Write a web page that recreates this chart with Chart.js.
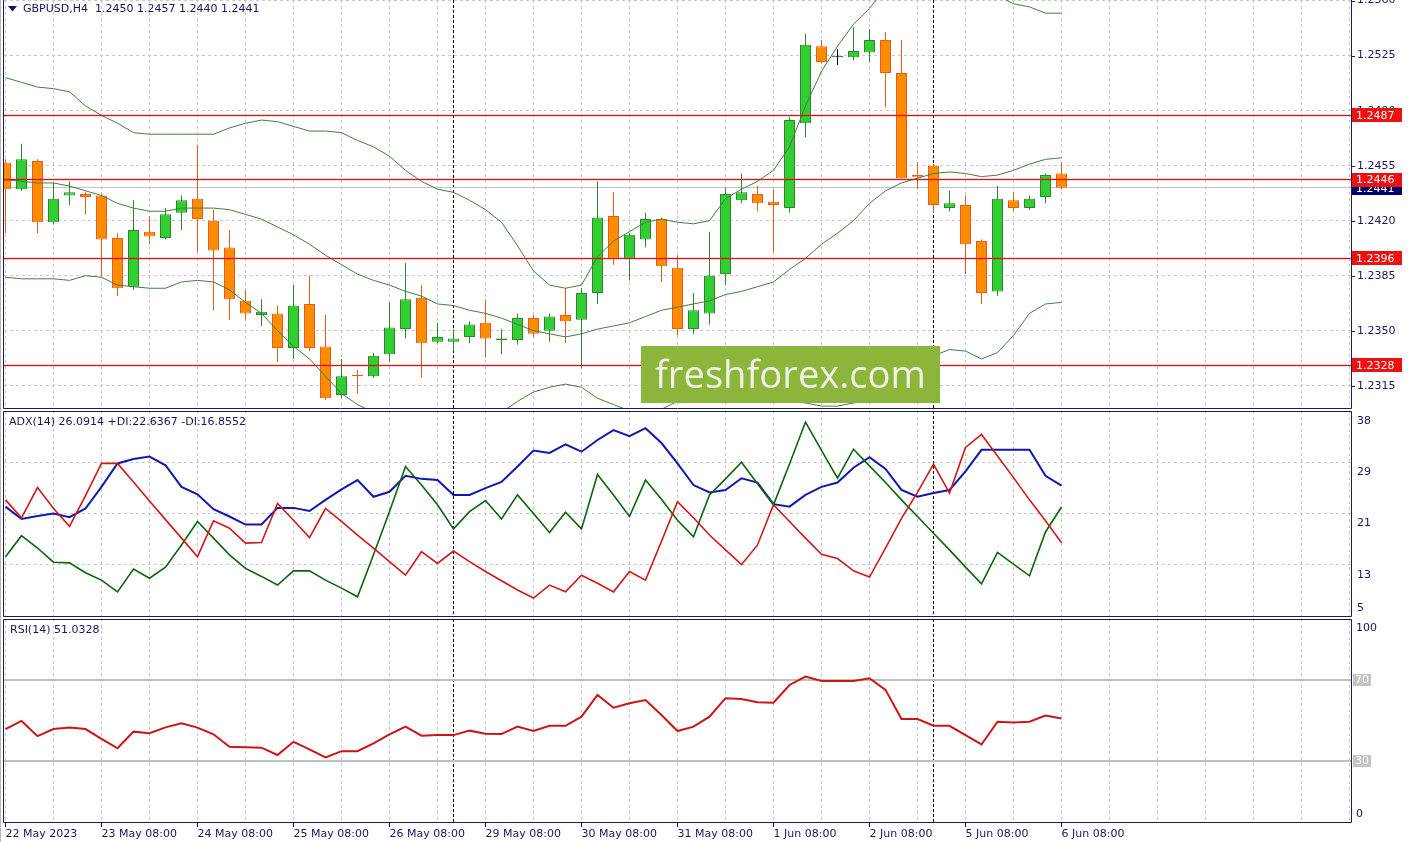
<!DOCTYPE html>
<html><head><meta charset="utf-8">
<script src="https://cdn.jsdelivr.net/npm/chart.js@4.4.1/dist/chart.umd.min.js"></script>
<style>
html,body{margin:0;padding:0;background:#fff;}
#wrap{position:relative;width:1410px;height:842px;overflow:hidden;background:#fff;}
canvas{position:absolute;left:0;}
</style></head><body>
<div id="wrap">
<canvas id="cMain" width="1410" height="410" style="top:0px"></canvas>
<canvas id="cAdx" width="1410" height="207" style="top:410px"></canvas>
<canvas id="cRsi" width="1410" height="225" style="top:617px"></canvas>
</div>
<script>
// ---------------- DATA ----------------
const symbol = 'GBPUSD,H4';
const open = [1.2457,1.2440,1.2458,1.2419,1.2436,1.2437,1.2436,1.2409,1.2378,1.2413,
  1.2409,1.2425,1.2434,1.2420,1.2403,1.2369,1.2360,1.2361,1.2339,1.2367,
  1.2340,1.2309,1.2322,1.2321,1.2335,1.2351,1.2371,1.2343,1.2343,1.2346,
  1.2355,1.2344,1.2344,1.2358,1.2350,1.2360,1.2357,1.2374,1.2423,1.2396,
  1.2408,1.2421,1.2390,1.2351,1.2361,1.2386,1.2433,1.2437,1.2432,1.2428,
  1.2482,1.2531,1.2524,1.2524,1.2527,1.2535,1.2514,1.2449,1.2455,1.2428,
  1.2430,1.2407,1.2375,1.2433,1.2428,1.2435,1.2450];
const high = [1.2459,1.2469,1.2459,1.2444,1.2445,1.2438,1.2437,1.2412,1.2433,1.2423,
  1.2428,1.2436,1.2468,1.2427,1.2414,1.2376,1.2370,1.2366,1.2379,1.2385,
  1.2360,1.2332,1.2325,1.2336,1.2368,1.2393,1.2379,1.2355,1.2351,1.2356,
  1.2370,1.2351,1.2361,1.2360,1.2361,1.2377,1.2377,1.2445,1.2438,1.2412,
  1.2425,1.2422,1.2398,1.2374,1.2413,1.2441,1.2450,1.2442,1.2440,1.2486,
  1.2539,1.2535,1.2529,1.2543,1.2542,1.2540,1.2535,1.2457,1.2456,1.2439,
  1.2436,1.2408,1.2442,1.2438,1.2436,1.2450,1.2457];
const low = [1.2412,1.2439,1.2412,1.2418,1.2430,1.2424,1.2385,1.2372,1.2376,1.2405,
  1.2408,1.2414,1.2400,1.2363,1.2357,1.2357,1.2353,1.2330,1.2332,1.2337,
  1.2306,1.2307,1.2310,1.2320,1.2330,1.2345,1.2320,1.2342,1.2337,1.2342,
  1.2333,1.2335,1.2341,1.2346,1.2343,1.2342,1.2326,1.2367,1.2392,1.2382,
  1.2403,1.2381,1.2347,1.2348,1.2354,1.2379,1.2431,1.2426,1.2400,1.2425,
  1.2473,1.2520,1.2519,1.2522,1.2521,1.2492,1.2447,1.2440,1.2425,1.2426,
  1.2386,1.2367,1.2372,1.2426,1.2427,1.2431,1.2440];
const close = [1.2440,1.2459,1.2419,1.2434,1.2438,1.2435,1.2408,1.2377,1.2414,1.2410,
  1.2424,1.2433,1.2421,1.2401,1.2370,1.2361,1.2362,1.2339,1.2366,1.2339,
  1.2307,1.2321,1.2321,1.2334,1.2352,1.2370,1.2342,1.2346,1.2345,1.2354,
  1.2345,1.2345,1.2358,1.2348,1.2359,1.2356,1.2374,1.2422,1.2396,1.2411,
  1.2421,1.2391,1.2351,1.2363,1.2385,1.2437,1.2438,1.2431,1.2430,1.2484,
  1.2532,1.2521,1.2524,1.2528,1.2535,1.2514,1.2447,1.2448,1.2430,1.2431,
  1.2405,1.2374,1.2434,1.2428,1.2434,1.2449,1.2441];

const bbUpper = [1.2511,1.2508,1.2505,1.2504,1.2502,1.2493,1.2487,1.2482,1.2476,1.2475,
  1.2475,1.2475,1.2475,1.2475,1.2479,1.2482,1.2484,1.2483,1.2480,1.2477,
  1.2477,1.2476,1.2471,1.2467,1.2461,1.2452,1.2445,1.2440,1.2438,1.2433,
  1.2427,1.2419,1.2404,1.2388,1.2379,1.2377,1.2379,1.2397,1.2407,1.2413,
  1.2419,1.2421,1.2419,1.2418,1.2420,1.2434,1.2440,1.2445,1.2452,1.2467,
  1.2493,1.2515,1.2531,1.2545,1.2555,1.2568,1.2570,1.2569,1.2566,1.2563,
  1.2563,1.2564,1.2563,1.2558,1.2556,1.2552,1.2552];
const bbMiddle = [1.2446,1.2445,1.2444,1.2444,1.2442,1.2439,1.2436,1.2431,1.2428,1.2426,
  1.2426,1.2428,1.2428,1.2428,1.2427,1.2424,1.2421,1.2416,1.2411,1.2405,
  1.2398,1.2392,1.2386,1.2382,1.2379,1.2375,1.2372,1.2367,1.2366,1.2363,
  1.2361,1.2358,1.2354,1.2350,1.2348,1.2346,1.2348,1.2351,1.2353,1.2355,
  1.2359,1.2363,1.2365,1.2367,1.2369,1.2373,1.2375,1.2378,1.2381,1.2389,
  1.2396,1.2405,1.2412,1.2420,1.2431,1.2439,1.2444,1.2447,1.2450,1.2451,
  1.2450,1.2448,1.2449,1.2452,1.2456,1.2459,1.2460];
const bbLower = [1.2384,1.2383,1.2383,1.2383,1.2382,1.2385,1.2384,1.2379,1.2378,1.2377,
  1.2377,1.2381,1.2382,1.2381,1.2376,1.2368,1.2361,1.2350,1.2340,1.2332,
  1.2321,1.2310,1.2303,1.2298,1.2297,1.2298,1.2298,1.2295,1.2294,1.2294,
  1.2295,1.2298,1.2305,1.2311,1.2314,1.2316,1.2314,1.2307,1.2303,1.2299,
  1.2297,1.2300,1.2305,1.2310,1.2312,1.2311,1.2309,1.2308,1.2307,1.2305,
  1.2304,1.2302,1.2302,1.2304,1.2305,1.2311,1.2318,1.2326,1.2334,1.2338,
  1.2337,1.2332,1.2336,1.2347,1.2361,1.2367,1.2368];

const adx = [22.7,20.7,21.2,21.6,21.0,22.4,25.9,29.7,30.4,30.8,
  29.4,25.9,24.7,22.3,21.1,19.8,19.8,22.5,22.5,22.0,
  23.8,25.5,27.0,24.3,25.1,27.7,27.2,27.0,24.6,24.6,
  25.7,26.7,29.2,31.8,31.4,32.8,31.6,33.5,35.1,34.1,
  35.4,33.0,29.7,26.2,25.0,25.4,27.3,26.6,23.1,22.7,
  24.6,25.9,26.6,29.0,30.7,28.8,25.4,24.3,24.9,25.4,
  28.4,31.9,31.9,31.9,31.9,27.7,26.0914];
const plusDI = [14.6,18.0,16.0,13.7,13.6,12.0,10.8,8.9,12.6,11.1,
  12.9,16.5,20.3,17.6,14.9,12.7,11.4,10.0,12.3,12.3,
  10.8,9.5,8.1,14.9,21.9,29.2,26.2,23.0,19.1,21.9,
  23.7,20.7,24.6,21.6,18.5,21.8,19.1,27.9,24.6,21.1,
  27.0,23.9,20.5,17.8,24.6,27.2,29.9,26.4,23.0,29.6,
  36.4,31.8,27.3,32.0,29.3,26.6,23.8,21.1,18.4,15.7,
  12.9,10.2,15.3,13.4,11.5,18.6,22.6367];
const minusDI = [23.8,20.9,25.8,22.4,19.5,24.5,29.7,29.7,26.7,23.6,
  20.6,17.6,14.6,20.4,19.2,16.8,16.9,23.2,20.5,17.7,
  22.4,20.3,18.1,16.0,13.8,11.6,15.4,13.5,15.5,13.8,
  12.2,10.7,9.2,7.9,10.0,8.9,11.6,10.3,8.9,12.2,
  10.8,17.1,23.5,20.9,18.1,15.7,13.3,16.5,23.0,20.3,
  17.6,15.0,14.3,12.3,11.3,16.0,20.8,25.0,29.6,24.9,
  32.3,34.4,30.9,27.4,23.8,20.4,16.8552];
const rsi = [45.8,49.8,42.3,45.8,46.5,45.8,40.9,36.3,44.5,43.7,
  46.6,48.6,46.5,43.2,37.1,36.8,36.6,33.0,39.5,35.8,
  31.8,34.9,34.9,38.7,43.2,47.0,42.5,42.8,42.8,45.0,
  43.5,43.3,47.0,44.8,47.4,47.4,51.9,62.6,56.3,58.5,
  60.1,52.7,44.8,47.0,51.9,61.0,60.6,59.0,58.8,67.5,
  71.6,69.5,69.5,69.5,70.8,65.1,50.7,50.7,47.4,47.4,
  42.8,38.2,49.4,49.0,49.4,52.4,51.0328];

const priceLevels = [1.2487, 1.2446, 1.2396, 1.2328];
const mainTickValues = [1.2560, 1.2525, 1.2490, 1.2455, 1.2420, 1.2385, 1.2350, 1.2315];
const adxTickValues = [38.19, 29.89, 21.59, 13.29, 4.99];
const adxTickLabels = ['38', '29', '21', '13', '5'];
const rsiTickValues = [100, 0];
const rsiTickLabels = ['100', '0'];
const rsiLevels = [70, 30];
const xLabelBars = [0, 6, 12, 18, 24, 30, 36, 42, 48, 54, 60, 66];
const xLabels = ['22 May 2023','23 May 08:00','24 May 08:00','25 May 08:00','26 May 08:00','29 May 08:00',
  '30 May 08:00','31 May 08:00','1 Jun 08:00','2 Jun 08:00','5 Jun 08:00','6 Jun 08:00'];
const weekSeparatorBars = [28, 58];
const watermarkText = 'freshforex.com';

// ---------------- STYLE ----------------
const FONT = '"DejaVu Sans", sans-serif';
const AXIS = '#16165e';
const GRID = '#c8c8c8';
const BORDER = '#1b1b58';
const BULL_FILL = '#33cc33', BULL_LINE = '#2a8a2a';
const BEAR_FILL = '#ff8c00', BEAR_LINE = '#e0601a';
const DOJI = '#000000';
const BB = '#3f7f3f';
const LEVEL = '#e01010', LEVEL_BOX = '#ee1111';
const X_MIN = -0.09375, X_MAX = 84.09375;
const LABEL_X = 1357;

const gridBars = [];
for (let b = 0; b <= 84; b += 3) gridBars.push(b);
const last = close.length - 1;

Chart.defaults.font.family = FONT;
Chart.defaults.font.size = 11;

function makeX(showLabels) {
  return {
    type: 'linear', min: X_MIN, max: X_MAX, offset: false, bounds: 'data',
    grid: { color: GRID, lineWidth: 1, offset: false, drawTicks: showLabels, tickLength: 5,
      tickColor: c => (c.tick && xLabelBars.indexOf(c.tick.value) >= 0) ? AXIS : 'rgba(0,0,0,0)' },
    border: { display: false, dash: [3, 3] },
    ticks: { display: showLabels, autoSkip: false, maxRotation: 0, minRotation: 0, align: 'start',
      padding: 1, color: AXIS, font: { family: FONT, size: 11 },
      callback: v => { const k = xLabelBars.indexOf(v); return k >= 0 ? xLabels[k] : ''; } },
    afterBuildTicks: s => { s.ticks = gridBars.map(v => ({ value: v })); },
    afterFit: s => { s.height = showLabels ? 20 : 0; s.paddingLeft = 0; s.paddingRight = 0; }
  };
}
function makeY(min, max, tickVals, showGrid) {
  return {
    type: 'linear', position: 'right', min: min, max: max, bounds: 'data',
    grid: { display: showGrid, color: GRID, drawTicks: false },
    border: { display: false, dash: [3, 3] },
    ticks: { display: false },
    afterBuildTicks: s => { s.ticks = tickVals.map(v => ({ value: v })); },
    afterFit: s => { s.width = 0; }
  };
}
function frame(ctx, a, drawTop) {
  ctx.save();
  ctx.strokeStyle = BORDER; ctx.lineWidth = 1; ctx.setLineDash([]);
  const l = a.left - 0.5, r = a.right + 0.5, t = a.top + 0.5, b = a.bottom + 0.5;
  ctx.beginPath();
  ctx.moveTo(l, drawTop ? t : 0); ctx.lineTo(l, b); ctx.lineTo(r, b); ctx.lineTo(r, drawTop ? t : 0);
  if (drawTop) ctx.lineTo(l, t);
  ctx.stroke();
  ctx.restore();
}
function separators(chart) {
  const { ctx, chartArea: a, scales: { x } } = chart;
  ctx.save();
  ctx.strokeStyle = '#000'; ctx.lineWidth = 1; ctx.setLineDash([3, 2]);
  weekSeparatorBars.forEach(b => {
    const px = Math.floor(x.getPixelForValue(b)) + 0.5;
    ctx.beginPath(); ctx.moveTo(px, a.top); ctx.lineTo(px, a.bottom); ctx.stroke();
  });
  ctx.restore();
}
function hLine(ctx, a, py, color, width) {
  ctx.save();
  ctx.strokeStyle = color; ctx.lineWidth = width; ctx.setLineDash([]);
  const y = width % 2 ? Math.round(py - 0.5) + 0.5 : Math.round(py);
  ctx.beginPath(); ctx.moveTo(a.left, y); ctx.lineTo(a.right, y); ctx.stroke();
  ctx.restore();
}
function text(ctx, str, x, y, color, font, align) {
  ctx.save();
  ctx.fillStyle = color; ctx.font = font || ('11px ' + FONT);
  ctx.textAlign = align || 'left'; ctx.textBaseline = 'middle';
  ctx.fillText(str, x, y);
  ctx.restore();
}
function boxLabel(ctx, str, y, bg, x0, x1, h) {
  ctx.save();
  ctx.fillStyle = bg;
  ctx.fillRect(x0, Math.round(y - h / 2), x1 - x0, h);
  ctx.restore();
  text(ctx, str, LABEL_X - 1, y + 0.5, '#ffffff');
}

const commonOpts = {
  responsive: false, animation: false, devicePixelRatio: 1, events: [],
  plugins: { legend: { display: false }, tooltip: { enabled: false } }
};

// ---------------- MAIN PANEL ----------------
const dir = open.map((o, i) => close[i] > o ? 1 : (close[i] < o ? -1 : 0));
const lineCol = d => d > 0 ? BULL_LINE : (d < 0 ? BEAR_LINE : DOJI);
const fillCol = d => d > 0 ? BULL_FILL : (d < 0 ? BEAR_FILL : DOJI);
const toXY = arr => arr.map((v, i) => ({ x: i, y: v }));

const mainPlugin = {
  id: 'mainDeco',
  beforeDatasetsDraw(chart) {
    const { ctx, chartArea: a, scales: { y } } = chart;
    separators(chart);
    hLine(ctx, a, y.getPixelForValue(close[last]), '#c4c4c4', 1);
  },
  afterDatasetsDraw(chart) {
    const { ctx, chartArea: a, scales: { y } } = chart;
    priceLevels.forEach(v => {
      const py = y.getPixelForValue(v);
      hLine(ctx, a, py, 'rgba(235,40,40,0.18)', 3);
      hLine(ctx, a, py, LEVEL, 1);
    });
  },
  afterDraw(chart) {
    const { ctx, chartArea: a, scales: { y } } = chart;
    // watermark
    ctx.save();
    ctx.fillStyle = '#8db53c';
    ctx.fillRect(641, 346, 299, 57);
    let fs = 40;
    ctx.font = fs + 'px "Open Sans", sans-serif';
    const w = ctx.measureText(watermarkText).width;
    fs = fs * 271 / w;
    ctx.font = fs.toFixed(2) + 'px "Open Sans", sans-serif';
    ctx.fillStyle = '#eef4e2';
    ctx.textBaseline = 'alphabetic'; ctx.textAlign = 'left';
    ctx.fillText(watermarkText, 655, 388);
    ctx.restore();
    frame(ctx, a, false);
    // right axis labels
    ctx.save(); ctx.strokeStyle = BORDER; ctx.lineWidth = 1;
    mainTickValues.forEach(v => {
      const py = y.getPixelForValue(v);
      ctx.beginPath(); ctx.moveTo(a.right, Math.round(py) + 0.5); ctx.lineTo(a.right + 4, Math.round(py) + 0.5); ctx.stroke();
    });
    ctx.restore();
    mainTickValues.forEach(v => text(ctx, v.toFixed(4), LABEL_X, y.getPixelForValue(v), AXIS));
    boxLabel(ctx, close[last].toFixed(4), y.getPixelForValue(close[last]) + 1, '#00006e', 1352, 1402, 13);
    priceLevels.forEach(v => boxLabel(ctx, v.toFixed(4), y.getPixelForValue(v), LEVEL_BOX, 1352, 1402, 14));
    // title
    ctx.save(); ctx.fillStyle = AXIS;
    ctx.beginPath(); ctx.moveTo(8, 6); ctx.lineTo(17, 6); ctx.lineTo(12.5, 11.5); ctx.closePath(); ctx.fill();
    ctx.restore();
    text(ctx, symbol + '  ' + [open[last], high[last], low[last], close[last]].map(v => v.toFixed(4)).join(' '), 23, 9, AXIS);
    // left window edge
    ctx.save(); ctx.fillStyle = '#b8b8b8'; ctx.fillRect(0, 0, 1, chart.height); ctx.restore();
  }
};

new Chart(document.getElementById('cMain'), {
  type: 'bar',
  data: {
    datasets: [
      { type: 'line', data: toXY(bbUpper), borderColor: BB, borderWidth: 1, pointRadius: 0, tension: 0, order: 0, clip: 0 },
      { type: 'line', data: toXY(bbMiddle), borderColor: BB, borderWidth: 1, pointRadius: 0, tension: 0, order: 0, clip: 0 },
      { type: 'line', data: toXY(bbLower), borderColor: BB, borderWidth: 1, pointRadius: 0, tension: 0, order: 0, clip: 0 },
      { type: 'bar', data: open.map((o, i) => ({ x: i, y: [low[i], high[i]] })),
        backgroundColor: dir.map(lineCol), barThickness: 1, grouped: false, inflateAmount: 0, borderWidth: 0, order: 2 },
      { type: 'bar', data: open.map((o, i) => ({ x: i, y: [o, close[i]] })),
        backgroundColor: dir.map(fillCol), borderColor: dir.map(lineCol), borderWidth: 1, borderSkipped: false,
        barThickness: 11, minBarLength: 1, grouped: false, inflateAmount: 0, order: 1 }
    ]
  },
  options: Object.assign({}, commonOpts, {
    layout: { padding: { left: 4, right: 59, top: 0, bottom: 2 } },
    scales: { x: makeX(false), y: makeY(1.23008, 1.25604, mainTickValues, true) }
  }),
  plugins: [mainPlugin]
});

// ---------------- ADX PANEL ----------------
const adxPlugin = {
  id: 'adxDeco',
  beforeDatasetsDraw(chart) { separators(chart); },
  afterDraw(chart) {
    const { ctx, chartArea: a, scales: { y } } = chart;
    frame(ctx, a, true);
    adxTickValues.forEach((v, i) => {
      const off = i === adxTickValues.length - 1 ? -8 : 10;
      text(ctx, adxTickLabels[i], LABEL_X, y.getPixelForValue(v) + off, AXIS);
    });
    text(ctx, 'ADX(14) ' + adx[last].toFixed(4) + ' +DI:' + plusDI[last].toFixed(4) + ' -DI:' + minusDI[last].toFixed(4), 9, 12.5, AXIS);
    ctx.save(); ctx.fillStyle = '#b8b8b8'; ctx.fillRect(0, 0, 1, chart.height); ctx.restore();
  }
};
new Chart(document.getElementById('cAdx'), {
  type: 'line',
  data: {
    datasets: [
      { data: toXY(adx), borderColor: '#1018b0', borderWidth: 2, pointRadius: 0, tension: 0, order: 3, clip: 0 },
      { data: toXY(plusDI), borderColor: '#0c640c', borderWidth: 1.6, pointRadius: 0, tension: 0, order: 2, clip: 0 },
      { data: toXY(minusDI), borderColor: '#d01818', borderWidth: 1.6, pointRadius: 0, tension: 0, order: 1, clip: 0 }
    ]
  },
  options: Object.assign({}, commonOpts, {
    layout: { padding: { left: 4, right: 59, top: 1, bottom: 1 } },
    scales: { x: makeX(false), y: makeY(4.99, 38.19, adxTickValues, true) }
  }),
  plugins: [adxPlugin]
});

// ---------------- RSI PANEL ----------------
const rsiPlugin = {
  id: 'rsiDeco',
  beforeDatasetsDraw(chart) {
    const { ctx, chartArea: a, scales: { y } } = chart;
    separators(chart);
    rsiLevels.forEach(v => hLine(ctx, a, y.getPixelForValue(v), '#c0c0c0', 2));
  },
  afterDraw(chart) {
    const { ctx, chartArea: a, scales: { y } } = chart;
    frame(ctx, a, true);
    text(ctx, rsiTickLabels[0], LABEL_X - 1, y.getPixelForValue(rsiTickValues[0]) + 9, AXIS);
    text(ctx, rsiTickLabels[1], LABEL_X - 1, y.getPixelForValue(rsiTickValues[1]) - 8, AXIS);
    rsiLevels.forEach(v => {
      const py = y.getPixelForValue(v);
      ctx.save(); ctx.fillStyle = '#c4c4c4'; ctx.fillRect(1353, Math.round(py - 6), 18, 12); ctx.restore();
      text(ctx, String(v), 1355, py + 0.5, '#ffffff');
    });
    text(ctx, 'RSI(14) ' + rsi[last].toFixed(4), 10, 13, AXIS);
    ctx.save(); ctx.fillStyle = '#b8b8b8'; ctx.fillRect(0, 0, 1, chart.height); ctx.restore();
  }
};
new Chart(document.getElementById('cRsi'), {
  type: 'line',
  data: {
    datasets: [
      { data: toXY(rsi), borderColor: '#cc1515', borderWidth: 2, pointRadius: 0, tension: 0, clip: 0 }
    ]
  },
  options: Object.assign({}, commonOpts, {
    layout: { padding: { left: 4, right: 59, top: 2, bottom: 0 } },
    scales: { x: makeX(true), y: makeY(0, 100, rsiTickValues, false) }
  }),
  plugins: [rsiPlugin]
});
</script>
</body></html>
